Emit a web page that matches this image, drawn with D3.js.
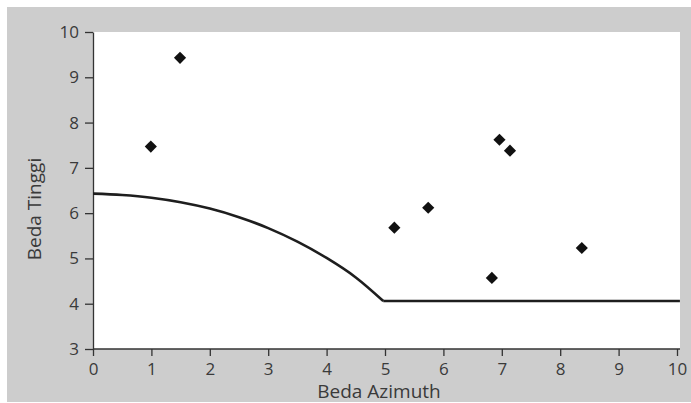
<!DOCTYPE html>
<html>
<head>
<meta charset="utf-8">
<script src="https://cdn.jsdelivr.net/npm/d3@7"></script>
<style>
  body { margin: 0; background: #fff; }
  svg { display: block; }
  .axis text { font-family: 'Open Sans', sans-serif; font-size: 17px; fill: #3a3a3a; }
  .axis line, .axis path { stroke: #333; stroke-width: 1.3; }
  .label { font-family: 'Open Sans', sans-serif; font-size: 19px; fill: #3a3a3a; }
</style>
</head>
<body>
<svg id="chart"></svg>
<script>
// scattered points (Beda Azimuth, Beda Tinggi)
const pointsX = [0.99, 1.49, 5.16, 5.74, 6.83, 6.96, 7.14, 8.37];
const pointsY = [7.47, 9.43, 5.68, 6.12, 4.57, 7.62, 7.38, 5.23];

// boundary curve
const curveX = [0, 0.5, 1.0, 1.5, 2.0, 2.5, 3.0, 3.5, 4.0, 4.5, 4.97];
const curveY = [6.43, 6.40, 6.34, 6.24, 6.10, 5.91, 5.67, 5.37, 5.01, 4.58, 4.06];
// flat part after the corner
const flatX = [4.97, 10.05];
const flatY = [4.06, 4.06];

const xTicks = [0, 1, 2, 3, 4, 5, 6, 7, 8, 9, 10];
const yTicks = [3, 4, 5, 6, 7, 8, 9, 10];

const width = 691;
const height = 403;

const svg = d3.select('#chart')
  .attr('width', width)
  .attr('height', height);

// grey frame
svg.append('rect')
  .attr('x', 7).attr('y', 7)
  .attr('width', width - 7).attr('height', 395)
  .attr('fill', '#cdcdcd');

const xScale = d3.scaleLinear().domain([0, 10]).range([93, 677]);
const yScale = d3.scaleLinear().domain([3, 10]).range([349, 32]);

// white plot area
svg.append('rect')
  .attr('x', xScale(0)).attr('y', yScale(10))
  .attr('width', 680 - xScale(0))
  .attr('height', yScale(3) - yScale(10))
  .attr('fill', '#fff');

const xAxis = d3.axisBottom(xScale).tickValues(xTicks).tickFormat(d3.format('d'))
  .tickSize(7).tickSizeOuter(0).tickPadding(7);
const yAxis = d3.axisLeft(yScale).tickValues(yTicks).tickFormat(d3.format('d'))
  .tickSize(8).tickSizeOuter(0).tickPadding(6);

svg.append('g')
  .attr('class', 'axis')
  .attr('transform', `translate(0,${yScale(3)})`)
  .call(xAxis)
  .call(g => g.select('.domain').remove());

svg.append('g')
  .attr('class', 'axis')
  .attr('transform', `translate(${xScale(0)},0)`)
  .call(yAxis);

// x axis line runs on to the edge of the white area
svg.append('line')
  .attr('x1', xScale(0)).attr('x2', 680)
  .attr('y1', yScale(3)).attr('y2', yScale(3))
  .attr('stroke', '#333').attr('stroke-width', 1.3);

// define the line
const valueline = d3.line()
  .x(d => xScale(d[0]))
  .y(d => yScale(d[1]))
  .curve(d3.curveMonotoneX);

svg.append('path')
  .datum(curveX.map((x, i) => [x, curveY[i]]))
  .attr('d', valueline)
  .attr('fill', 'none')
  .attr('stroke', '#1e1e1e')
  .attr('stroke-width', 2.6);

svg.append('path')
  .datum(flatX.map((x, i) => [x, flatY[i]]))
  .attr('d', valueline)
  .attr('fill', 'none')
  .attr('stroke', '#1e1e1e')
  .attr('stroke-width', 2.6);

// diamonds
svg.selectAll('.pt')
  .data(pointsX.map((x, i) => [x, pointsY[i]]))
  .enter()
  .append('rect')
  .attr('class', 'pt')
  .attr('x', -4.3).attr('y', -4.3)
  .attr('width', 8.6).attr('height', 8.6)
  .attr('fill', '#111')
  .attr('transform', d => `translate(${xScale(d[0])},${yScale(d[1])}) rotate(45)`);

// Labelling
svg.append('text')
  .attr('class', 'label')
  .attr('text-anchor', 'middle')
  .attr('x', 379)
  .attr('y', 398)
  .text('Beda Azimuth');

svg.append('text')
  .attr('class', 'label')
  .attr('text-anchor', 'middle')
  .attr('transform', 'translate(41,209) rotate(-90)')
  .text('Beda Tinggi');
</script>
</body>
</html>
